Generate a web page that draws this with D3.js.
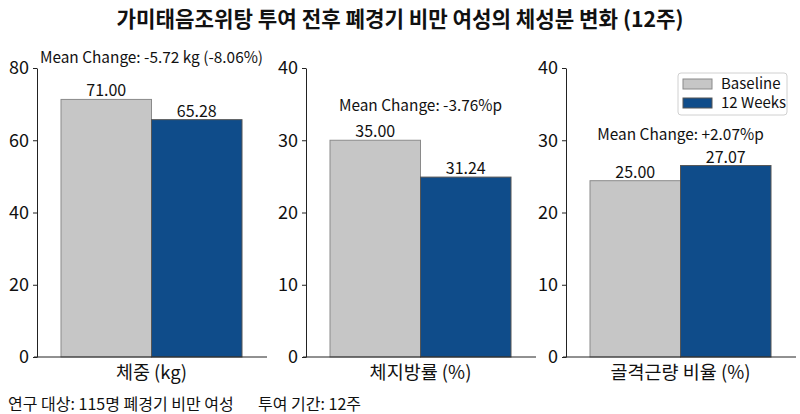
<!DOCTYPE html>
<html>
<head>
<meta charset="utf-8">
<script src="https://cdn.jsdelivr.net/npm/d3@7"></script>
<style>
  body { margin: 0; background: #fff; }
  text { font-family: "Noto Sans CJK KR", "Noto Sans", sans-serif; fill: #111; }
</style>
</head>
<body>
<svg id="mainsvg" width="800" height="414"></svg>
<script>
// data
const panelNames = ['체중 (kg)', '체지방률 (%)', '골격근량 비율 (%)']
const yMaxes = [80, 40, 40]
const baselineBars = [71.3, 30.0, 24.4]
const weekBars = [65.7, 24.9, 26.5]
const baselineLabels = ['71.00', '35.00', '25.00']
const weekLabels = ['65.28', '31.24', '27.07']
const changeLabels = ['Mean Change: -5.72 kg (-8.06%)', 'Mean Change: -3.76%p', 'Mean Change: +2.07%p']
const seriesNames = ['Baseline', '12 Weeks']
const colors = ['#c6c6c6', '#0f4c8a']

const svg = d3.select('#mainsvg')
const plotTop = 68, plotBottom = 357
const axisXs = [37, 306, 566]
const panelW = 230

svg.append('text')
  .attr('x', 400).attr('y', 27)
  .attr('text-anchor', 'middle')
  .attr('font-size', 21.2).attr('font-weight', 'bold')
  .text('가미태음조위탕 투여 전후 폐경기 비만 여성의 체성분 변화 (12주)')

panelNames.forEach((name, i) => {
  const g = svg.append('g').attr('transform', `translate(${axisXs[i]},0)`)
  const y = d3.scaleLinear().domain([0, yMaxes[i]]).range([plotBottom, plotTop])
  const x = d3.scaleBand().domain(seriesNames).range([24, 205]).paddingInner(0)

  const yAxis = g.append('g')
    .call(d3.axisLeft(y).ticks(4).tickSize(4).tickSizeOuter(0))
  yAxis.select('.domain').attr('stroke', '#222')
  yAxis.selectAll('.tick line').attr('stroke', '#222')
  yAxis.selectAll('.tick text')
    .attr('font-size', 18).attr('dx', -1)
    .style('font-family', '"Noto Sans CJK KR", sans-serif')

  const vals = [baselineBars[i], weekBars[i]]
  const labs = [baselineLabels[i], weekLabels[i]]

  g.selectAll('rect.bar').data(vals).enter().append('rect')
    .attr('class', 'bar')
    .attr('x', (d, j) => x(seriesNames[j]))
    .attr('y', d => y(d))
    .attr('width', x.bandwidth())
    .attr('height', d => plotBottom - y(d))
    .attr('fill', (d, j) => colors[j])
    .attr('stroke', (d, j) => j === 0 ? '#8a8a8a' : '#555')
    .attr('stroke-width', 1)

  g.selectAll('text.val').data(vals).enter().append('text')
    .attr('class', 'val')
    .attr('x', (d, j) => x(seriesNames[j]) + x.bandwidth() / 2)
    .attr('y', d => y(d) - 3)
    .attr('text-anchor', 'middle')
    .attr('font-size', 16)
    .text((d, j) => labs[j])

  // x baseline
  g.append('line')
    .attr('x1', -3).attr('x2', panelW)
    .attr('y1', plotBottom).attr('y2', plotBottom)
    .attr('stroke', '#222')

  g.append('text')
    .attr('x', (x.range()[0] + x.range()[1]) / 2)
    .attr('y', plotBottom + 22)
    .attr('text-anchor', 'middle')
    .attr('font-size', 18.5)
    .text(name)

  g.append('text')
    .attr('x', (x.range()[0] + x.range()[1]) / 2)
    .attr('y', y(d3.max(vals) * 1.16) + 5)
    .attr('text-anchor', 'middle')
    .attr('font-size', 15.4)
    .text(changeLabels[i])
})

// legend
const lg = svg.append('g').attr('transform', 'translate(678,73)')
lg.append('rect').attr('width', 109).attr('height', 42).attr('rx', 3)
  .attr('fill', '#fff').attr('stroke', '#d0d0d0')
seriesNames.forEach((s, j) => {
  lg.append('rect').attr('x', 5).attr('y', 6 + j * 19).attr('width', 29).attr('height', 10)
    .attr('fill', colors[j]).attr('stroke', j === 0 ? '#8a8a8a' : '#555')
  lg.append('text').attr('x', 43).attr('y', 16 + j * 19)
    .attr('font-size', 15).text(s)
})

svg.append('text').attr('x', 8).attr('y', 410).attr('font-size', 16)
  .text('연구 대상: 115명 폐경기 비만 여성')
svg.append('text').attr('x', 258).attr('y', 410).attr('font-size', 16)
  .text('투여 기간: 12주')
</script>
</body>
</html>
